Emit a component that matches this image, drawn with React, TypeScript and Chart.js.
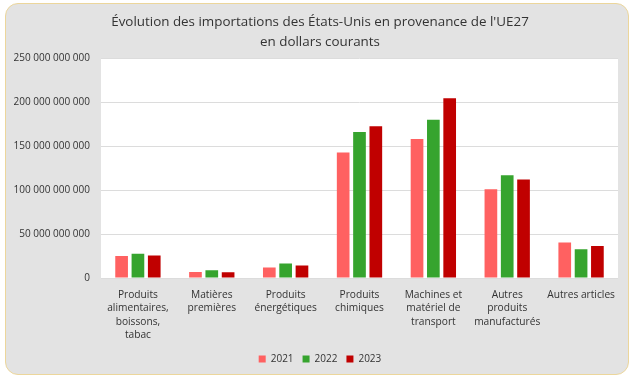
import React, { useEffect, useRef } from "react";
import { Chart, registerables } from "chart.js";

Chart.register(...registerables);

const categories: string[][] = [
  ["Produits", "alimentaires,", "boissons,", "tabac"],
  ["Matières", "premières"],
  ["Produits", "énergétiques"],
  ["Produits", "chimiques"],
  ["Machines et", "matériel de", "transport"],
  ["Autres", "produits", "manufacturés"],
  ["Autres articles"],
];

const values2021 = [24.9e9, 6.8e9, 12.0e9, 142.7e9, 158.0e9, 101.0e9, 40.4e9];
const values2022 = [27.5e9, 8.7e9, 16.6e9, 166.0e9, 180.0e9, 117.0e9, 32.8e9];
const values2023 = [25.7e9, 6.4e9, 14.3e9, 172.5e9, 204.4e9, 112.0e9, 36.5e9];

const seriesLabels = ["2021", "2022", "2023"];
const titleLines = [
  "Évolution des importations des États-Unis en provenance de l'UE27",
  "en dollars courants",
];

const FONT = "'Open Sans', 'Noto Sans', sans-serif";

const fmt = (v: number) =>
  String(Math.round(v)).replace(/\B(?=(\d{3})+(?!\d))/g, " ");

const whiteArea = {
  id: "whiteArea",
  beforeDraw(chart: any) {
    const { ctx, chartArea } = chart;
    ctx.save();
    ctx.fillStyle = "#ffffff";
    ctx.fillRect(
      chartArea.left,
      chartArea.top,
      chartArea.right - chartArea.left,
      chartArea.bottom - chartArea.top
    );
    ctx.restore();
  },
};

export default function App() {
  const ref = useRef<HTMLCanvasElement | null>(null);

  useEffect(() => {
    if (!ref.current) return;
    const chart = new Chart(ref.current, {
      type: "bar",
      data: {
        labels: categories,
        datasets: [
          { label: seriesLabels[0], data: values2021, backgroundColor: "#ff6161" },
          { label: seriesLabels[1], data: values2022, backgroundColor: "#36a42e" },
          { label: seriesLabels[2], data: values2023, backgroundColor: "#c00000" },
        ],
      },
      options: {
        responsive: false,
        animation: false,
        layout: { padding: { left: 0, right: 0, top: 0, bottom: 12 } },
        datasets: {
          bar: { categoryPercentage: 0.663, barPercentage: 0.777 },
        },
        plugins: {
          title: {
            display: true,
            text: titleLines,
            color: "#333333",
            font: { family: FONT, size: 13.4, weight: "normal" as any, lineHeight: 1.5 },
            padding: { top: 12, bottom: 6 },
          },
          legend: {
            position: "bottom",
            labels: {
              boxWidth: 7,
              boxHeight: 7,
              padding: 9,
              color: "#333333",
              font: { family: FONT, size: 10 },
            },
          },
          tooltip: { enabled: false },
        },
        scales: {
          x: {
            grid: { display: false, drawTicks: false },
            border: { display: false },
            ticks: {
              color: "#333333",
              font: { family: FONT, size: 10.2, lineHeight: 1.33 },
              padding: 10,
              maxRotation: 0,
              autoSkip: false,
            },
            afterFit: (scale: any) => {
              scale.height = 67;
            },
          },
          y: {
            min: 0,
            max: 250e9,
            grid: { color: "#dcdcdc", drawTicks: false },
            border: { display: false },
            ticks: {
              stepSize: 50e9,
              color: "#333333",
              font: { family: FONT, size: 10 },
              padding: 11,
              callback: (v: any) => fmt(Number(v)),
            },
            afterFit: (scale: any) => {
              scale.width = 101;
            },
          },
          yRight: {
            position: "right",
            min: 0,
            max: 250e9,
            grid: { display: false, drawTicks: false },
            border: { display: false },
            ticks: { display: false },
            afterFit: (scale: any) => {
              scale.width = 22;
            },
          },
        },
      },
      plugins: [whiteArea],
    });
    return () => chart.destroy();
  }, []);

  return (
    <div
      style={{
        position: "absolute",
        left: 0,
        top: 0,
        width: 640,
        height: 386,
        background: "#ffffff",
      }}
    >
      <div
        style={{
          position: "absolute",
          left: 5,
          top: 3,
          width: 622,
          height: 370,
          background: "#e3e3e3",
          border: "1.5px solid #ecd69b",
          borderRadius: 13,
        }}
      />
      <canvas
        ref={ref}
        width={640}
        height={386}
        style={{ position: "absolute", left: 0, top: 0 }}
      />
    </div>
  );
}
